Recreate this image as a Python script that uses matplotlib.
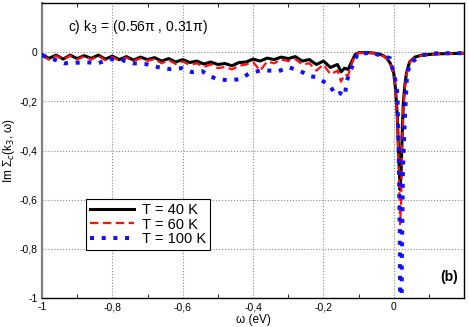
import matplotlib
matplotlib.use("Agg")
import matplotlib.pyplot as plt
from matplotlib.ticker import FuncFormatter, MultipleLocator

plt.rcParams['font.family'] = ['Liberation Sans', 'DejaVu Sans']

# ---- data ----
omega_bk = [-1.00, -0.98, -0.96, -0.94, -0.92, -0.90, -0.88, -0.86, -0.84, -0.82,
            -0.80, -0.78, -0.76, -0.74, -0.72, -0.70, -0.68, -0.66, -0.64, -0.62,
            -0.60, -0.58, -0.56, -0.54, -0.52, -0.50, -0.48, -0.46, -0.44, -0.42,
            -0.40, -0.38, -0.36, -0.34, -0.32, -0.30, -0.28, -0.26, -0.24, -0.22,
            -0.20, -0.18, -0.16, -0.15, -0.14, -0.13, -0.12, -0.11, -0.10, -0.08,
            -0.06, -0.04, -0.03, -0.02, -0.01, 0.00, 0.005, 0.010, 0.014, 0.018,
            0.021, 0.024, 0.027, 0.031, 0.036, 0.045, 0.06, 0.08, 0.12, 0.20]
im_40K = [-0.010, -0.025, -0.012, -0.028, -0.012, -0.026, -0.014, -0.025, -0.012, -0.028,
          -0.016, -0.030, -0.018, -0.032, -0.020, -0.030, -0.022, -0.036, -0.026, -0.040,
          -0.030, -0.042, -0.036, -0.048, -0.040, -0.050, -0.046, -0.055, -0.042, -0.040,
          -0.028, -0.036, -0.024, -0.030, -0.020, -0.026, -0.018, -0.036, -0.030, -0.050,
          -0.036, -0.062, -0.050, -0.080, -0.065, -0.070, -0.040, -0.010, -0.002, -0.001,
          -0.003, -0.008, -0.014, -0.024, -0.045, -0.085, -0.150, -0.260, -0.420, -0.560,
          -0.480, -0.330, -0.210, -0.140, -0.085, -0.040, -0.020, -0.012, -0.007, -0.004]
im_60K = [-0.015, -0.030, -0.015, -0.030, -0.014, -0.030, -0.016, -0.030, -0.015, -0.033,
          -0.020, -0.035, -0.022, -0.036, -0.025, -0.035, -0.028, -0.045, -0.032, -0.048,
          -0.038, -0.052, -0.045, -0.060, -0.050, -0.065, -0.060, -0.070, -0.055, -0.050,
          -0.040, -0.075, -0.038, -0.045, -0.030, -0.036, -0.028, -0.050, -0.045, -0.075,
          -0.050, -0.090, -0.075, -0.120, -0.090, -0.095, -0.050, -0.012, -0.003, -0.002,
          -0.004, -0.009, -0.016, -0.026, -0.048, -0.090, -0.160, -0.280, -0.460, -0.700,
          -0.600, -0.380, -0.230, -0.150, -0.090, -0.042, -0.021, -0.013, -0.008, -0.004]

omega_100K = [-1.000, -0.935, -0.872, -0.841, -0.807, -0.773, -0.741, -0.702, -0.670, -0.636,
              -0.602, -0.574, -0.545, -0.528, -0.503, -0.469, -0.438, -0.409, -0.375, -0.327,
              -0.298, -0.276, -0.253, -0.241, -0.222, -0.205, -0.193, -0.179, -0.165, -0.153,
              -0.139, -0.134, -0.119, -0.102, -0.060, -0.011, 0.000, 0.009, 0.011, 0.014,
              0.017, 0.020, 0.023, 0.026, 0.031, 0.037, 0.045, 0.080, 0.125, 0.205]
im_100K = [-0.012, -0.045, -0.041, -0.045, -0.028, -0.032, -0.045, -0.049, -0.061, -0.069,
           -0.065, -0.081, -0.077, -0.093, -0.110, -0.114, -0.110, -0.085, -0.073, -0.077,
           -0.061, -0.073, -0.085, -0.097, -0.101, -0.114, -0.126, -0.142, -0.174, -0.166,
           -0.178, -0.118, -0.061, -0.004, -0.004, -0.024, -0.085, -0.146, -0.210, -0.400,
           -0.720, -1.600, -0.840, -0.480, -0.280, -0.110, -0.045, -0.012, -0.004, -0.004]

labels = ["T = 40 K", "T = 60 K", "T = 100 K"]
xticks = [-1.0, -0.8, -0.6, -0.4, -0.2, 0.0]
yticks = [-1.0, -0.8, -0.6, -0.4, -0.2, 0.0]

# ---- figure ----
fig = plt.figure(figsize=(4.69, 3.27), dpi=100)
ax = fig.add_axes([0.0896, 0.0887, 0.9, 0.902])

ax.plot(omega_bk, im_40K, color='black', lw=2.2, solid_joinstyle='round', label=labels[0], zorder=3)
ax.plot(omega_bk, im_60K, color='#ff1010', lw=1.6, linestyle=(0, (3.8, 2.0)), label=labels[1], zorder=4)
ax.plot(omega_100K, im_100K, color='#1010ff', lw=2.9, linestyle=(0, (1, 1.9)),
        dash_capstyle='butt', label=labels[2], zorder=5)

ax.set_xlim(-1.0, 0.2)
ax.set_ylim(-1.0, 0.2)

fmt = FuncFormatter(lambda v, p: ("%g" % round(v, 2)).replace('.', ','))
ax.set_xticks(xticks)
ax.set_yticks(yticks)
ax.xaxis.set_major_formatter(fmt)
ax.yaxis.set_major_formatter(fmt)
ax.xaxis.set_minor_locator(MultipleLocator(0.1))
ax.tick_params(axis='both', which='both', direction='in', labelsize=7.5, top=True)
ax.tick_params(axis='x', which='major', length=0, pad=3)
ax.tick_params(axis='x', which='minor', length=3, width=0.6)
ax.tick_params(axis='y', which='major', length=0, pad=3)
ax.grid(True, which='major', linestyle=':', color='#888888', lw=0.8)

for side in ['top', 'right', 'bottom']:
    ax.spines[side].set_color('black')
    ax.spines[side].set_linewidth(1.0)
ax.spines['left'].set_color('#808080')
ax.spines['left'].set_linewidth(1.6)

ax.set_xlabel("ω (eV)", fontsize=8.5, labelpad=1)
ax.set_ylabel("Im Σ$_c$(k$_3$, ω)", fontsize=8.5, labelpad=2)

ax.text(0.062, 0.92, "c) k$_3$ = (0.56π , 0.31π)", transform=ax.transAxes,
        fontsize=10, ha='left', va='center')
ax.text(0.985, 0.07, "(b)", transform=ax.transAxes, fontsize=10,
        fontweight='bold', ha='right', va='center')

leg = ax.legend(loc='upper left', bbox_to_anchor=(0.105, 0.335), fontsize=10.5,
                frameon=True, fancybox=False, edgecolor='black', framealpha=1,
                handlelength=3.0, labelspacing=0.05, borderpad=0.25,
                handletextpad=0.6, borderaxespad=0)
leg.get_frame().set_linewidth(0.8)

fig.savefig("out.png", dpi=100)
